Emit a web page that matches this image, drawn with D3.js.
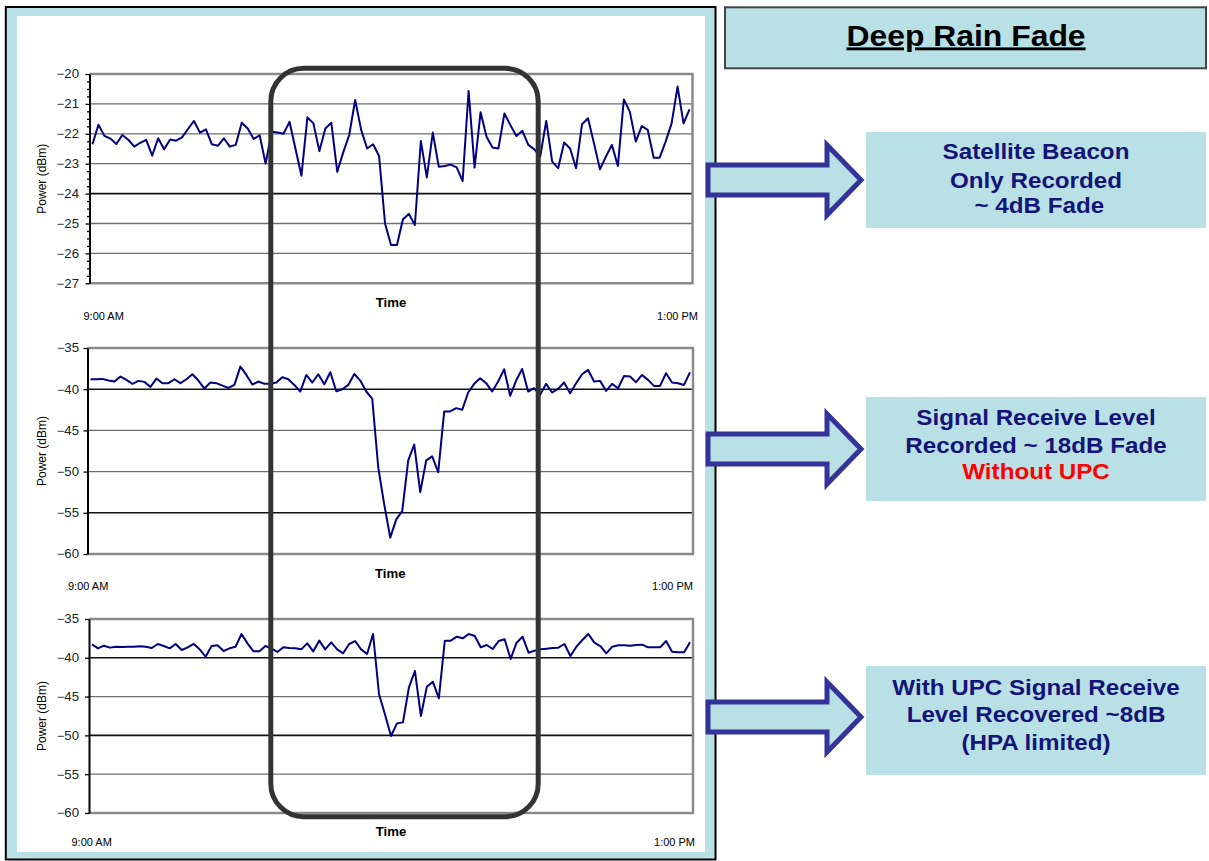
<!DOCTYPE html>
<html>
<head>
<meta charset="utf-8">
<script src="https://cdn.jsdelivr.net/npm/d3@7"></script>
<style>
  body { margin: 0; background: #fff; }
  text { font-family: "Liberation Sans", Arial, sans-serif; }
</style>
</head>
<body>
<div class="rain-fade"></div>
<script>
// ---- data (one sample per step, 9:00 AM -> 1:00 PM)
const beaconPower = [
  -22.35, -21.7, -22.07, -22.16, -22.34, -22.04, -22.2, -22.43, -22.3, -22.2,
  -22.73, -22.15, -22.52, -22.19, -22.23, -22.12, -21.84, -21.57, -21.96, -21.85,
  -22.35, -22.4, -22.15, -22.43, -22.37, -21.63, -21.82, -22.17, -22.05, -23.0,
  -21.93, -21.96, -22.0, -21.6, -22.5, -23.4, -21.45, -21.65, -22.58, -21.82,
  -21.63, -23.27, -22.62, -22.04, -20.87, -21.87, -22.49, -22.35, -22.74, -25.0,
  -25.72, -25.72, -24.86, -24.68, -25.05, -22.24, -23.46, -21.96, -23.1, -23.08,
  -23.03, -23.12, -23.58, -20.57, -23.13, -21.28, -22.1, -22.46, -22.49, -21.32,
  -21.71, -22.07, -21.9, -22.37, -22.52, -22.75, -21.57, -22.93, -23.15, -22.29,
  -22.49, -23.15, -21.68, -21.48, -22.32, -23.19, -22.76, -22.37, -23.08, -20.85,
  -21.26, -22.26, -21.74, -21.87, -22.8, -22.8, -22.26, -21.65, -20.42, -21.65,
  -21.18
];
const noUpcPower = [
  -38.79, -38.79, -38.75, -38.95, -39.07, -38.47, -38.87, -39.35, -38.99, -39.11,
  -39.72, -38.71, -39.27, -39.27, -38.79, -39.27, -38.79, -38.19, -38.95, -39.92,
  -39.19, -39.27, -39.56, -39.84, -39.48, -37.26, -38.27, -39.44, -39.07, -39.35,
  -39.35, -39.19, -38.55, -38.79, -39.48, -40.28, -38.27, -39.19, -38.19, -39.4,
  -37.94, -40.24, -40.0, -39.48, -38.15, -38.95, -40.28, -41.17, -49.5, -54.0,
  -58.02, -55.8, -54.8, -48.63, -46.73, -52.5, -48.63, -48.15, -50.08, -42.7,
  -42.7, -42.3, -42.5, -40.4, -39.35, -38.67, -39.27, -40.28, -39.07, -37.58,
  -40.8, -38.95, -37.54, -40.28, -39.88, -40.69, -39.35, -40.4, -39.96, -39.19,
  -40.48, -39.27, -38.19, -37.66, -39.07, -38.99, -40.2, -39.35, -39.88, -38.39,
  -38.47, -39.15, -38.27, -38.87, -39.6, -39.6, -38.06, -39.19, -39.27, -39.48,
  -37.94
];
const upcPower = [
  -38.26, -38.78, -38.44, -38.69, -38.57, -38.61, -38.57, -38.57, -38.52, -38.57,
  -38.74, -38.22, -38.48, -38.78, -38.22, -38.99, -38.65, -38.22, -38.91, -39.85,
  -38.48, -38.39, -39.12, -38.78, -38.57, -36.93, -38.14, -39.17, -39.17, -38.48,
  -38.78, -39.25, -38.65, -38.74, -38.78, -38.91, -38.14, -39.17, -37.79, -38.91,
  -38.01, -38.91, -39.42, -38.22, -37.84, -38.91, -39.51, -36.93, -44.7, -47.3,
  -50.08, -48.45, -48.32, -43.8, -41.7, -47.5, -43.72, -43.08, -45.22, -37.79,
  -37.79, -37.28, -37.49, -36.93, -37.19, -38.65, -38.35, -38.87, -37.84, -37.62,
  -40.15, -38.05, -37.28, -39.34, -39.08, -38.91, -38.82, -38.74, -38.69, -38.22,
  -39.77, -38.57, -37.71, -36.93, -38.05, -38.48, -39.42, -38.57, -38.39, -38.39,
  -38.44, -38.35, -38.31, -38.65, -38.65, -38.65, -37.84, -39.21, -39.3, -39.3,
  -38.01
];

const beaconTicks = [-20, -21, -22, -23, -24, -25, -26, -27];
const receiveTicks = [-35, -40, -45, -50, -55, -60];
const timeLabels = ["9:00 AM", "1:00 PM"];
const xTitle = "Time";
const yTitle = "Power (dBm)";
const title = "Deep Rain Fade";
const notes = [
  ["Satellite Beacon", "Only Recorded", " ~ 4dB Fade"],
  ["Signal Receive Level", "Recorded ~ 18dB Fade", "Without UPC"],
  ["With UPC Signal Receive", "Level Recovered ~8dB", "(HPA limited)"]
];

// ---- layout / styling
const WIDTH = 1209, HEIGHT = 861;
const STRETCH = 1.1; // source text is a bit wider than Arial
const BLUE = "#b9e0e4", NAVY = "#141478", ARROW = "#333399";

const panels = [
  { values: beaconPower, ticks: beaconTicks, minor: 0.25, dark: [-24],
    left: 89.5, right: 692.5, top: 74, bottom: 283.3, labelGap: 10.5,
    timeY: 319.5, timeX: [-6, 5.5], titleY: 303 },
  { values: noUpcPower, ticks: receiveTicks, minor: null, dark: [-40, -55],
    left: 87.5, right: 693, top: 348, bottom: 554, labelGap: 8.5,
    timeY: 590, timeX: [-19.5, 0], titleY: 574 },
  { values: upcPower, ticks: receiveTicks, minor: null, dark: [-40, -50],
    left: 89, right: 693, top: 619, bottom: 813, labelGap: 10,
    timeY: 845.5, timeX: [-17.5, 2], titleY: 832 }
];

function stretchedText(parent, x, y, str) {
  return parent.append("text")
    .attr("transform", `translate(${x},${y}) scale(${STRETCH},1)`)
    .attr("xml:space", "preserve")
    .style("white-space", "pre")
    .text(str);
}

const svg = d3.select(".rain-fade")
  .append("svg")
  .attr("width", WIDTH)
  .attr("height", HEIGHT);

svg.append("rect").attr("width", WIDTH).attr("height", HEIGHT).attr("fill", "#fff");

// left frame holding the three charts
svg.append("rect")
  .attr("x", 5.8).attr("y", 7)
  .attr("width", 709.7).attr("height", 852.5)
  .attr("fill", BLUE)
  .attr("stroke", "#000")
  .attr("stroke-width", 2);

svg.append("rect")
  .attr("x", 17).attr("y", 16)
  .attr("width", 688).attr("height", 836)
  .attr("fill", "#fff");

function drawPanel(p) {
  const g = svg.append("g");
  const n = p.values.length;

  const x = d3.scalePoint()
    .domain(d3.range(n))
    .range([p.left, p.right])
    .padding(0.5);

  const y = d3.scaleLinear()
    .domain([d3.max(p.ticks), d3.min(p.ticks)])
    .range([p.top, p.bottom]);

  // gridlines
  const inner = p.ticks.slice(1, -1);
  g.selectAll(".grid")
    .data(inner)
    .join("line")
    .attr("x1", p.left).attr("x2", p.right)
    .attr("y1", d => y(d)).attr("y2", d => y(d))
    .attr("stroke", d => p.dark.includes(d) ? "#111" : "#6e6e6e")
    .attr("stroke-width", d => p.dark.includes(d) ? 1.6 : 1.3);

  // plot frame (top, right, bottom) in grey
  g.append("path")
    .attr("d", `M${p.left},${y(d3.max(p.ticks))}H${p.right}V${y(d3.min(p.ticks))}H${p.left}`)
    .attr("fill", "none")
    .attr("stroke", "#8a8a8a")
    .attr("stroke-width", 2.5);

  // minor ticks
  if (p.minor) {
    const lo = d3.min(p.ticks), hi = d3.max(p.ticks);
    const minors = d3.range(lo, hi, p.minor).filter(v => !p.ticks.includes(v));
    g.append("g")
      .attr("transform", `translate(${p.left},0)`)
      .call(d3.axisLeft(y).tickValues(minors).tickSize(2.5).tickFormat(""))
      .call(a => a.select(".domain").remove())
      .call(a => a.selectAll("line").attr("stroke", "#000").attr("stroke-width", 1.3));
  }

  // main y axis
  const axis = g.append("g")
    .attr("transform", `translate(${p.left},0)`)
    .call(d3.axisLeft(y).tickValues(p.ticks).tickSize(4).tickSizeOuter(0).tickFormat(d3.format("d")));
  axis.select(".domain").attr("stroke", "#000").attr("stroke-width", 2);
  axis.selectAll(".tick line").attr("stroke", "#000").attr("stroke-width", 1.3);
  axis.selectAll(".tick text")
    .attr("x", -p.labelGap / STRETCH)
    .attr("transform", `scale(${STRETCH},1)`)
    .attr("fill", "#222")
    .style("font-family", '"Liberation Sans", Arial, sans-serif')
    .style("font-size", "12px");

  // the recorded power
  const line = d3.line()
    .x((d, i) => x(i))
    .y(d => y(d));

  g.append("path")
    .datum(p.values)
    .attr("d", line)
    .attr("fill", "none")
    .attr("stroke", "#000080")
    .attr("stroke-width", 2)
    .attr("stroke-linejoin", "round");

  // axis titles and end labels
  stretchedText(g, (p.left + p.right) / 2, p.titleY, xTitle)
    .attr("dy", "0.35em")
    .attr("text-anchor", "middle")
    .style("font-size", "12px")
    .style("font-weight", "bold");

  g.append("text")
    .attr("transform", `translate(42,${(p.top + p.bottom) / 2}) rotate(-90)`)
    .attr("dy", "0.35em")
    .attr("text-anchor", "middle")
    .style("font-size", "12px")
    .text(yTitle);

  stretchedText(g, p.left + p.timeX[0], p.timeY, timeLabels[0])
    .attr("text-anchor", "start")
    .style("font-size", "10px");

  stretchedText(g, p.right + p.timeX[1], p.timeY, timeLabels[1])
    .attr("text-anchor", "end")
    .style("font-size", "10px");
}

panels.forEach(drawPanel);

// rounded highlight over the fade window
svg.append("rect")
  .attr("x", 270.8).attr("y", 68.3)
  .attr("width", 538.2 - 270.8).attr("height", 816.7 - 68.3)
  .attr("rx", 33).attr("ry", 33)
  .attr("fill", "none")
  .attr("stroke", "#333")
  .attr("stroke-width", 5);

// block arrows pointing to the notes
const arrowCenters = [180, 449, 717];
arrowCenters.forEach(cy => {
  const shaft = 15, head = 35;
  svg.append("path")
    .attr("d", `M708,${cy - shaft}H827V${cy - head}L861,${cy}L827,${cy + head}V${cy + shaft}H708Z`)
    .attr("fill", BLUE)
    .attr("stroke", ARROW)
    .attr("stroke-width", 5)
    .attr("stroke-linejoin", "miter");
});

// title box
svg.append("rect")
  .attr("x", 725).attr("y", 7.3)
  .attr("width", 481).attr("height", 61)
  .attr("fill", BLUE)
  .attr("stroke", "#444")
  .attr("stroke-width", 2);

stretchedText(svg, 966, 45.5, title)
  .attr("text-anchor", "middle")
  .style("font-size", "29px")
  .style("font-weight", "bold")
  .style("text-decoration", "underline")
  .attr("fill", "#000");

// note boxes
const noteBoxes = [
  { top: 132, bottom: 228, baselines: [159.3, 187.5, 213.3] },
  { top: 397, bottom: 501, baselines: [425, 452.7, 479.3] },
  { top: 666, bottom: 775, baselines: [695, 722.3, 749.5] }
];

noteBoxes.forEach((b, i) => {
  svg.append("rect")
    .attr("x", 866).attr("y", b.top)
    .attr("width", 340).attr("height", b.bottom - b.top)
    .attr("fill", BLUE);

  notes[i].forEach((str, j) => {
    const red = str === "Without UPC";
    stretchedText(svg, 1036, b.baselines[j], str)
      .attr("text-anchor", "middle")
      .style("font-size", "22px")
      .style("font-weight", "bold")
      .attr("fill", red ? "#ff0000" : NAVY);
  });
});
</script>
</body>
</html>
